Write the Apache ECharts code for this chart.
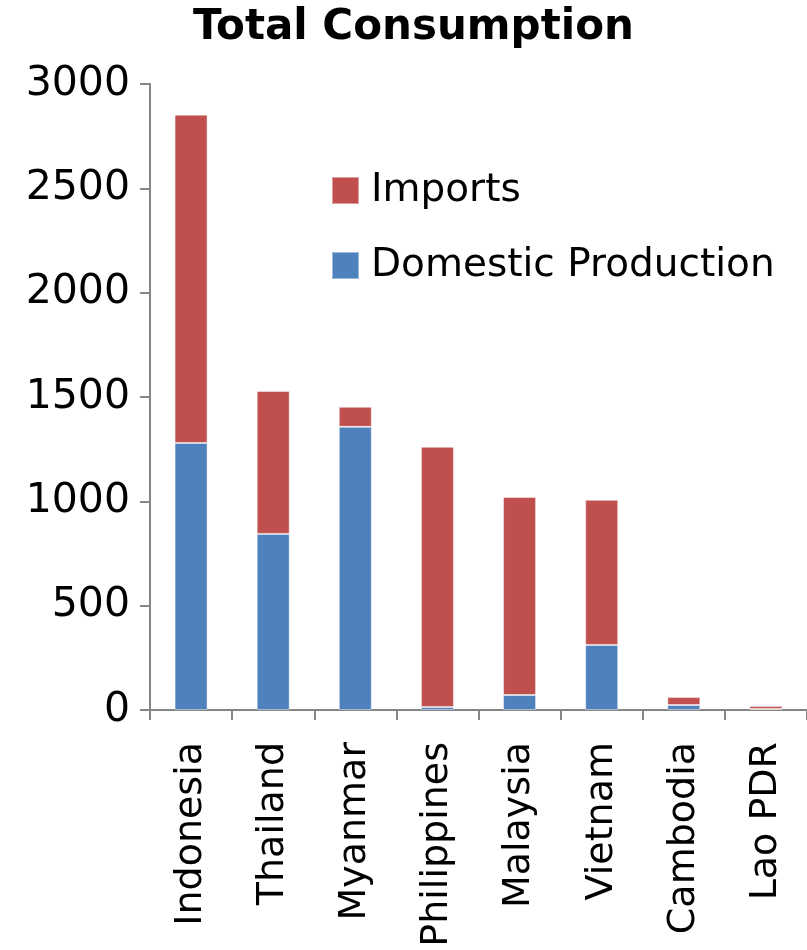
<!DOCTYPE html>
<html>
<head>
	<meta charset="utf-8">
	<title>Total Consumption</title>
	<style type="text/css">
		html, body { margin: 0; padding: 0; background: #fff; }
		#main { width: 807px; height: 950px; }
	</style>
</head>
<body>
<div id="main"></div>
<script type="text/javascript" src="https://cdn.jsdelivr.net/npm/echarts@6/dist/echarts.min.js"></script>
<script type="text/javascript">
	var countries = ['Indonesia', 'Thailand', 'Myanmar', 'Philippines', 'Malaysia', 'Vietnam', 'Cambodia', 'Lao PDR'];
	var domestic = [1280, 844, 1357, 14, 72, 312, 24, 5];
	var imports = [1573, 685, 96, 1247, 949, 695, 38, 14];
	var yTicks = [0, 500, 1000, 1500, 2000, 2500, 3000];

	var font = 'DejaVu Sans';
	var axisGray = '#868686';

	var myChart = echarts.init(document.getElementById('main'));

	var option = {
		animation: false,
		title: {
			text: 'Total Consumption',
			left: 188,
			top: 2,
			textStyle: {
				fontFamily: font,
				fontWeight: 'bold',
				fontSize: 42,
				color: '#000'
			}
		},
		legend: {
			data: ['Imports', 'Domestic Production'],
			orient: 'vertical',
			left: 326,
			top: 166,
			itemWidth: 27,
			itemHeight: 27,
			itemGap: 36,
			icon: 'rect',
			textStyle: {
				fontFamily: font,
				fontSize: 39,
				color: '#000',
				padding: [0, 0, 0, 7]
			}
		},
		grid: {
			left: 150,
			top: 84,
			width: 660,
			height: 626
		},
		xAxis: {
			type: 'category',
			data: countries,
			axisLine: { lineStyle: { color: axisGray, width: 2 } },
			axisTick: {
				show: true,
				interval: 0,
				length: 10,
				lineStyle: { color: axisGray, width: 2 }
			},
			axisLabel: {
				interval: 0,
				rotate: 90,
				margin: 32,
				fontFamily: font,
				fontSize: 38,
				color: '#000'
			}
		},
		yAxis: {
			type: 'value',
			min: yTicks[0],
			max: yTicks[yTicks.length - 1],
			interval: 500,
			splitLine: { show: false },
			axisLine: { show: true, lineStyle: { color: axisGray, width: 2 } },
			axisTick: {
				show: true,
				length: 10,
				lineStyle: { color: axisGray, width: 2 }
			},
			axisLabel: {
				margin: 20,
				fontFamily: font,
				fontSize: 41,
				color: '#000',
				formatter: function (v) { return String(v); }
			}
		},
		series: [{
			name: 'Domestic Production',
			type: 'bar',
			stack: 'total',
			barWidth: 33,
			data: domestic,
			itemStyle: {
				color: '#4F81BD',
				borderColor: 'rgba(255,255,255,0.45)',
				borderWidth: 1
			}
		}, {
			name: 'Imports',
			type: 'bar',
			stack: 'total',
			barWidth: 33,
			data: imports,
			itemStyle: {
				color: '#C0504D',
				borderColor: 'rgba(255,255,255,0.45)',
				borderWidth: 1
			}
		}]
	};

	myChart.setOption(option);
</script>
</body>
</html>
